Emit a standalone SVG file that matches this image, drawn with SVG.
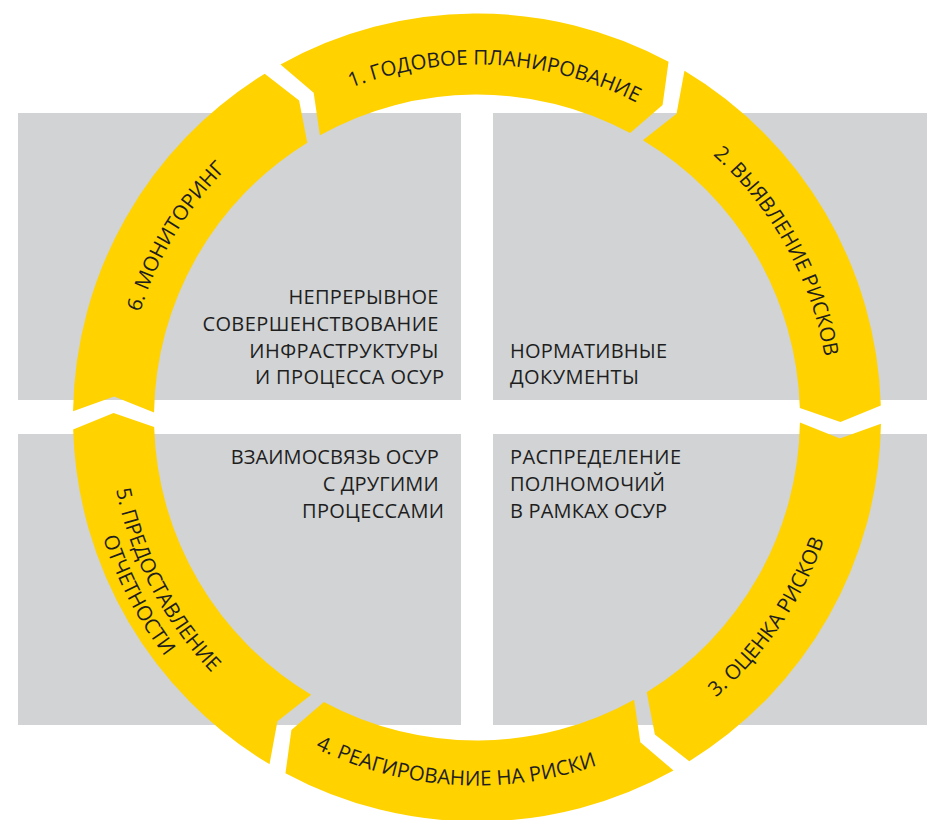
<svg xmlns="http://www.w3.org/2000/svg" xmlns:xlink="http://www.w3.org/1999/xlink" width="927" height="820" viewBox="0 0 927 820">
<style>
.bg{fill:#D1D3D4}
.seg{fill:#FFD200}
.ring{font-family:"Open Sans","Noto Sans",sans-serif;font-size:20.5px;fill:#1E1E1E}
.ctr{font-family:"Open Sans","Noto Sans",sans-serif;font-size:20px;fill:#1E1E1E}
</style>
<defs>
<path id="segShape" d="M 282.99 63.13 A 404 404 0 0 1 671.01 63.13 L 664.76 106.25 L 632.11 134.18 A 323 323 0 0 0 321.89 134.18 L 315.94 91.63 Z"/>
<path id="arcTop" d="M 171.29 241 A 353 353 0 0 1 782.71 241" fill="none"/>
<path id="arcBot" d="M 158.30 601.5 A 368 368 0 0 0 795.70 601.5" fill="none"/>
<path id="arcBot2" d="M 136.65 614 A 393 393 0 0 0 817.35 614" fill="none"/>
</defs>
<rect width="927" height="820" fill="#FFFFFF"/>
<g id="quad-tl">
<rect class="bg" x="18" y="113" width="443" height="287"/>
<text class="ctr" text-anchor="end">
<tspan x="444" y="304" textLength="150" lengthAdjust="spacing">НЕПРЕРЫВНОЕ</tspan>
<tspan x="444" y="331" textLength="236" lengthAdjust="spacing">СОВЕРШЕНСТВОВАНИЕ</tspan>
<tspan x="444" y="358" textLength="189" lengthAdjust="spacing">ИНФРАСТРУКТУРЫ</tspan>
<tspan x="444" y="384" textLength="189" lengthAdjust="spacing">И ПРОЦЕССА ОСУР</tspan>
</text>
</g>
<g id="quad-tr">
<rect class="bg" x="493" y="113" width="434" height="287"/>
<text class="ctr">
<tspan x="510" y="358" textLength="157" lengthAdjust="spacing">НОРМАТИВНЫЕ</tspan>
<tspan x="510" y="384" textLength="129" lengthAdjust="spacing">ДОКУМЕНТЫ</tspan>
</text>
</g>
<g id="quad-bl">
<rect class="bg" x="18" y="434" width="443" height="291"/>
<text class="ctr" text-anchor="end">
<tspan x="444" y="464" textLength="208" lengthAdjust="spacing">ВЗАИМОСВЯЗЬ ОСУР</tspan>
<tspan x="444" y="491" textLength="116" lengthAdjust="spacing">С ДРУГИМИ</tspan>
<tspan x="444" y="518" textLength="142" lengthAdjust="spacing">ПРОЦЕССАМИ</tspan>
</text>
</g>
<g id="quad-br">
<rect class="bg" x="493" y="434" width="434" height="291"/>
<text class="ctr">
<tspan x="510" y="464" textLength="171" lengthAdjust="spacing">РАСПРЕДЕЛЕНИЕ</tspan>
<tspan x="510" y="491" textLength="155" lengthAdjust="spacing">ПОЛНОМОЧИЙ</tspan>
<tspan x="510" y="518" textLength="157" lengthAdjust="spacing">В РАМКАХ ОСУР</tspan>
</text>
</g>
<g id="seg1">
<use xlink:href="#segShape" class="seg" transform="rotate(-0.4 477 417.5)"/>
<text class="ring" transform="rotate(3 477 417.5)"><textPath xlink:href="#arcTop" startOffset="50%" text-anchor="middle">1. ГОДОВОЕ ПЛАНИРОВАНИЕ</textPath></text>
</g>
<g id="seg2">
<use xlink:href="#segShape" class="seg" transform="rotate(59.6 477 417.5)"/>
<text class="ring" transform="rotate(61 477 417.5)"><textPath xlink:href="#arcTop" startOffset="50%" text-anchor="middle">2. ВЫЯВЛЕНИЕ РИСКОВ</textPath></text>
</g>
<g id="seg3">
<use xlink:href="#segShape" class="seg" transform="rotate(119.6 477 417.5)"/>
<text class="ring" transform="rotate(-55.5 477 417.5)"><textPath xlink:href="#arcBot" startOffset="50%" text-anchor="middle">3. ОЦЕНКА РИСКОВ</textPath></text>
</g>
<g id="seg4">
<use xlink:href="#segShape" class="seg" transform="rotate(179.6 477 417.5)"/>
<text class="ring" transform="rotate(3.5 477 417.5)"><textPath xlink:href="#arcBot" startOffset="50%" text-anchor="middle">4. РЕАГИРОВАНИЕ НА РИСКИ</textPath></text>
</g>
<g id="seg5">
<use xlink:href="#segShape" class="seg" transform="rotate(239.6 477 417.5)"/>
<text class="ring" transform="rotate(62.4 477 417.5)"><textPath xlink:href="#arcBot" startOffset="50%" text-anchor="middle">5. ПРЕДОСТАВЛЕНИЕ</textPath></text>
<text class="ring" transform="rotate(62.4 477 417.5)"><textPath xlink:href="#arcBot2" startOffset="50%" text-anchor="middle">ОТЧЕТНОСТИ</textPath></text>
</g>
<g id="seg6">
<use xlink:href="#segShape" class="seg" transform="rotate(299.6 477 417.5)"/>
<text class="ring" transform="rotate(-59 477 417.5)"><textPath xlink:href="#arcTop" startOffset="50%" text-anchor="middle">6. МОНИТОРИНГ</textPath></text>
</g>
</svg>
